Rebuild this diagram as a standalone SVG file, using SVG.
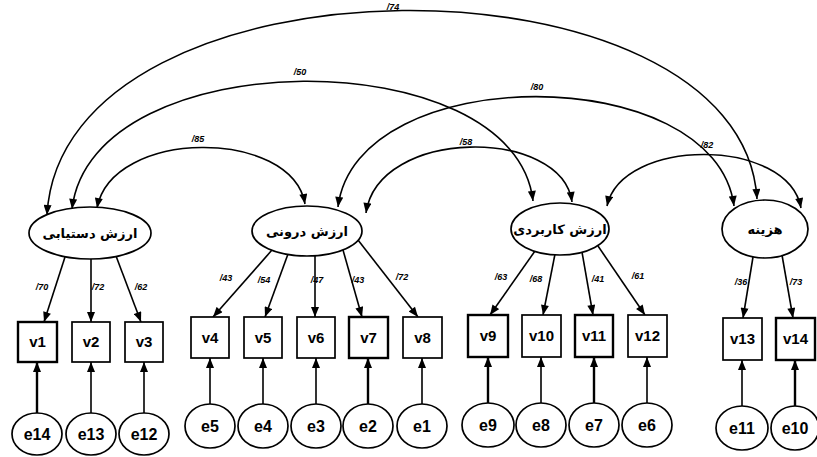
<svg xmlns="http://www.w3.org/2000/svg" width="817" height="457" viewBox="0 0 817 457">
<defs>
<marker id="ah" viewBox="0 0 10 8" refX="10" refY="4" markerWidth="11" markerHeight="8" markerUnits="userSpaceOnUse" orient="auto-start-reverse">
<path d="M0,0 L10,4 L0,8 z" fill="#000"/>
</marker>
<style>
.ln{fill:none;stroke:#000;stroke-width:1.6}
.th{stroke-width:2.4}
.arc{fill:none;stroke:#000;stroke-width:1.6;marker-start:url(#ah);marker-end:url(#ah)}
.one{marker-end:url(#ah)}
.box{fill:#fff;stroke:#000;stroke-width:1.7}
.bx{stroke-width:2.4}
.lat{fill:#fff;stroke:#000;stroke-width:1.7}
.err{fill:#fff;stroke:#000;stroke-width:1.7}
.vt{font-family:'Liberation Sans',Arial,sans-serif;font-weight:bold;font-size:15px;text-anchor:middle}
.et{font-family:'Liberation Sans',Arial,sans-serif;font-weight:bold;font-size:16px;text-anchor:middle}
.fa{font-family:'DejaVu Sans','Noto Sans',sans-serif;font-weight:bold;font-size:13px;text-anchor:middle}
.nl{font-family:'Liberation Sans',Arial,sans-serif;font-style:italic;font-weight:bold;font-size:9px;text-anchor:middle}
</style>
</defs>
<rect width="817" height="457" fill="#fff"/>

<g id="connectors">
<path class="arc" d="M47,215 C62,-55 742,-55 757,199"/>
<path class="arc" d="M72,209 C92,40 515,40 533,201"/>
<path class="arc" d="M97,208 C112,128 292,128 305,204"/>
<path class="arc" d="M338,207 C356,60 715,60 734,206"/>
<path class="arc" d="M366,213 C378,127 562,127 572,202"/>
<path class="arc" d="M607,206 C622,137 788,137 801,208"/>
<line class="ln one" x1="65" y1="257" x2="44" y2="322"/>
<line class="ln one" x1="91" y1="259" x2="91" y2="322"/>
<line class="ln one" x1="116" y1="256" x2="141" y2="322"/>
<line class="ln one" x1="272" y1="250" x2="213" y2="317"/>
<line class="ln one" x1="288" y1="254" x2="265" y2="317"/>
<line class="ln one" x1="315" y1="256" x2="315" y2="317"/>
<line class="ln one" x1="343" y1="250" x2="362" y2="317"/>
<line class="ln one" x1="358" y1="240" x2="418" y2="317"/>
<line class="ln one" x1="535" y1="251" x2="490" y2="315"/>
<line class="ln one" x1="555" y1="254" x2="543" y2="315"/>
<line class="ln one" x1="582" y1="252" x2="593" y2="315"/>
<line class="ln one" x1="598" y1="246" x2="645" y2="315"/>
<line class="ln one" x1="753" y1="257" x2="743" y2="318"/>
<line class="ln one" x1="782" y1="255" x2="793" y2="318"/>
<line class="ln one th" x1="37" y1="413" x2="37" y2="362"/>
<line class="ln one" x1="91" y1="413" x2="91" y2="362"/>
<line class="ln one" x1="144" y1="413" x2="144" y2="362"/>
<line class="ln one" x1="210" y1="404" x2="210" y2="358"/>
<line class="ln one" x1="263" y1="404" x2="263" y2="358"/>
<line class="ln one" x1="316" y1="404" x2="316" y2="358"/>
<line class="ln one th" x1="368" y1="404" x2="368" y2="358"/>
<line class="ln one" x1="422" y1="404" x2="422" y2="358"/>
<line class="ln one th" x1="488" y1="403" x2="488" y2="357"/>
<line class="ln one" x1="541" y1="403" x2="541" y2="357"/>
<line class="ln one th" x1="594" y1="403" x2="594" y2="357"/>
<line class="ln one" x1="647" y1="403" x2="647" y2="357"/>
<line class="ln one" x1="742" y1="406" x2="742" y2="360"/>
<line class="ln one th" x1="795" y1="406" x2="795" y2="360"/>
</g>

<g id="labels">
<text class="nl" x="393" y="10">/74</text>
<text class="nl" x="300" y="75">/50</text>
<text class="nl" x="198" y="142">/85</text>
<text class="nl" x="537" y="90">/80</text>
<text class="nl" x="466" y="145">/58</text>
<text class="nl" x="707" y="148">/82</text>
<text class="nl" x="42" y="290">/70</text>
<text class="nl" x="98" y="290">/72</text>
<text class="nl" x="141" y="290">/62</text>
<text class="nl" x="226" y="281">/43</text>
<text class="nl" x="264" y="283">/54</text>
<text class="nl" x="317" y="283">/47</text>
<text class="nl" x="358" y="283">/43</text>
<text class="nl" x="402" y="280">/72</text>
<text class="nl" x="501" y="280">/63</text>
<text class="nl" x="536" y="282">/68</text>
<text class="nl" x="598" y="282">/41</text>
<text class="nl" x="638" y="279">/61</text>
<text class="nl" x="741" y="285">/36</text>
<text class="nl" x="796" y="285">/73</text>
</g>

<g id="L1"><ellipse class="lat" cx="90" cy="233" rx="61" ry="26"/><text class="fa" x="90" y="238">ارزش دستیابی</text></g>
<g id="L2"><ellipse class="lat" cx="307" cy="231" rx="55" ry="25"/><text class="fa" x="307" y="236">ارزش درونی</text></g>
<g id="L3"><ellipse class="lat" cx="560" cy="229" rx="49" ry="26"/><text class="fa" x="560" y="234">ارزش کاربردی</text></g>
<g id="L4"><ellipse class="lat" cx="765" cy="229" rx="43" ry="29"/><text class="fa" x="765" y="234">هزینه</text></g>

<g id="v1"><rect class="box bx" x="18" y="322" width="39" height="40"/><text class="vt" x="37.5" y="347">v1</text></g>
<g id="v2"><rect class="box" x="72" y="322" width="38" height="40"/><text class="vt" x="91" y="347">v2</text></g>
<g id="v3"><rect class="box" x="125" y="322" width="38" height="40"/><text class="vt" x="144" y="347">v3</text></g>
<g id="v4"><rect class="box" x="191" y="317" width="38" height="41"/><text class="vt" x="210" y="343">v4</text></g>
<g id="v5"><rect class="box" x="244" y="317" width="38" height="41"/><text class="vt" x="263" y="343">v5</text></g>
<g id="v6"><rect class="box" x="297" y="317" width="38" height="41"/><text class="vt" x="316" y="343">v6</text></g>
<g id="v7"><rect class="box bx" x="349" y="317" width="39" height="41"/><text class="vt" x="368.5" y="343">v7</text></g>
<g id="v8"><rect class="box" x="403" y="317" width="39" height="41"/><text class="vt" x="422.5" y="343">v8</text></g>
<g id="v9"><rect class="box bx" x="468" y="315" width="40" height="42"/><text class="vt" x="488" y="341">v9</text></g>
<g id="v10"><rect class="box" x="522" y="315" width="39" height="42"/><text class="vt" x="541.5" y="341">v10</text></g>
<g id="v11"><rect class="box bx" x="575" y="315" width="38" height="42"/><text class="vt" x="594" y="341">v11</text></g>
<g id="v12"><rect class="box" x="628" y="315" width="39" height="42"/><text class="vt" x="647.5" y="341">v12</text></g>
<g id="v13"><rect class="box" x="723" y="318" width="39" height="42"/><text class="vt" x="742.5" y="344">v13</text></g>
<g id="v14"><rect class="box bx" x="776" y="318" width="39" height="42"/><text class="vt" x="795.5" y="344">v14</text></g>

<g id="e14"><ellipse class="err" cx="37" cy="434" rx="25" ry="21"/><text class="et" x="37" y="440">e14</text></g>
<g id="e13"><ellipse class="err" cx="91" cy="434" rx="25" ry="21"/><text class="et" x="91" y="440">e13</text></g>
<g id="e12"><ellipse class="err" cx="144" cy="434" rx="25" ry="21"/><text class="et" x="144" y="440">e12</text></g>
<g id="e5"><ellipse class="err" cx="210" cy="426" rx="25" ry="22"/><text class="et" x="210" y="432">e5</text></g>
<g id="e4"><ellipse class="err" cx="263" cy="426" rx="25" ry="22"/><text class="et" x="263" y="432">e4</text></g>
<g id="e3"><ellipse class="err" cx="316" cy="426" rx="25" ry="22"/><text class="et" x="316" y="432">e3</text></g>
<g id="e2"><ellipse class="err" cx="368" cy="426" rx="25" ry="22"/><text class="et" x="368" y="432">e2</text></g>
<g id="e1"><ellipse class="err" cx="422" cy="426" rx="25" ry="22"/><text class="et" x="422" y="432">e1</text></g>
<g id="e9"><ellipse class="err" cx="488" cy="425" rx="26" ry="22"/><text class="et" x="488" y="431">e9</text></g>
<g id="e8"><ellipse class="err" cx="541" cy="425" rx="25" ry="22"/><text class="et" x="541" y="431">e8</text></g>
<g id="e7"><ellipse class="err" cx="594" cy="425" rx="25" ry="22"/><text class="et" x="594" y="431">e7</text></g>
<g id="e6"><ellipse class="err" cx="647" cy="425" rx="25" ry="22"/><text class="et" x="647" y="431">e6</text></g>
<g id="e11"><ellipse class="err" cx="742" cy="428" rx="26" ry="22"/><text class="et" x="742" y="434">e11</text></g>
<g id="e10"><ellipse class="err" cx="795" cy="428" rx="24" ry="22"/><text class="et" x="795" y="434">e10</text></g>
</svg>
